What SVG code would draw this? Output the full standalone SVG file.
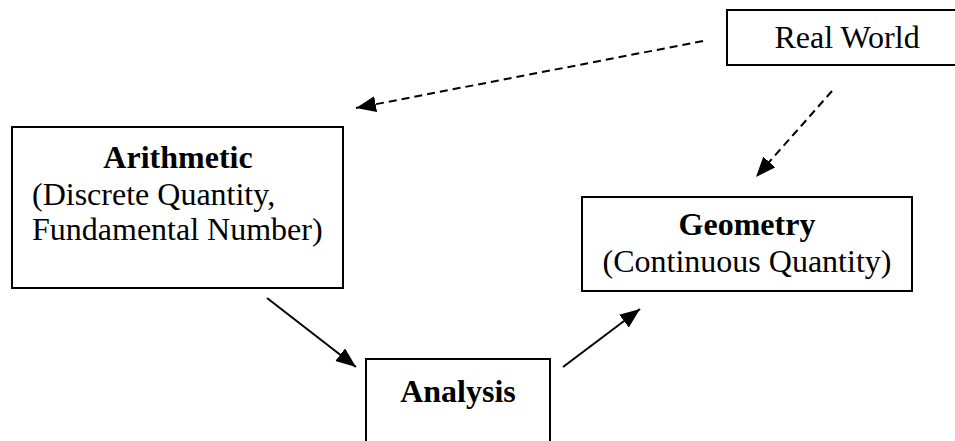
<svg xmlns="http://www.w3.org/2000/svg" width="955" height="441" viewBox="0 0 955 441">
<style>
  .box { fill: #fff; stroke: #000; stroke-width: 2; }
  .t { font-family: "Liberation Serif", "Times New Roman", serif; font-size: 32px; fill: #000; }
  .b { font-weight: bold; }
  .c { text-anchor: middle; }
  .solid { stroke: #000; stroke-width: 2; fill: none; marker-end: url(#ah); }
  .dash { stroke: #000; stroke-width: 2; fill: none; stroke-dasharray: 8 5; marker-end: url(#ah); }
</style>
<defs>
  <marker id="ah" markerUnits="userSpaceOnUse" markerWidth="22" markerHeight="18" refX="20" refY="8" orient="auto">
    <path d="M0,0 L20,8 L0,16 Z" fill="#000"/>
  </marker>
</defs>
<rect x="0" y="0" width="955" height="441" fill="#fff"/>
<g id="connectors">
  <line class="dash" x1="703" y1="41" x2="356" y2="108"/>
  <line class="dash" x1="832" y1="91" x2="756" y2="177"/>
  <line class="solid" x1="267" y1="298" x2="356" y2="367"/>
  <line class="solid" x1="563" y1="367" x2="640" y2="309"/>
</g>
<g id="realworld">
  <rect class="box" x="727" y="10" width="240" height="55"/>
  <text class="t c" x="847" y="48">Real World</text>
</g>
<g id="arithmetic">
  <rect class="box" x="12" y="127" width="331" height="161"/>
  <text class="t b c" x="178" y="168">Arithmetic</text>
  <text class="t" x="32" y="205">(Discrete Quantity,</text>
  <text class="t" x="32" y="240">Fundamental Number)</text>
</g>
<g id="geometry">
  <rect class="box" x="582" y="197" width="330" height="94"/>
  <text class="t b c" x="747" y="235">Geometry</text>
  <text class="t c" x="747" y="272">(Continuous Quantity)</text>
</g>
<g id="analysis">
  <rect class="box" x="366" y="359" width="184" height="100"/>
  <text class="t b c" x="458" y="402">Analysis</text>
</g>
</svg>
